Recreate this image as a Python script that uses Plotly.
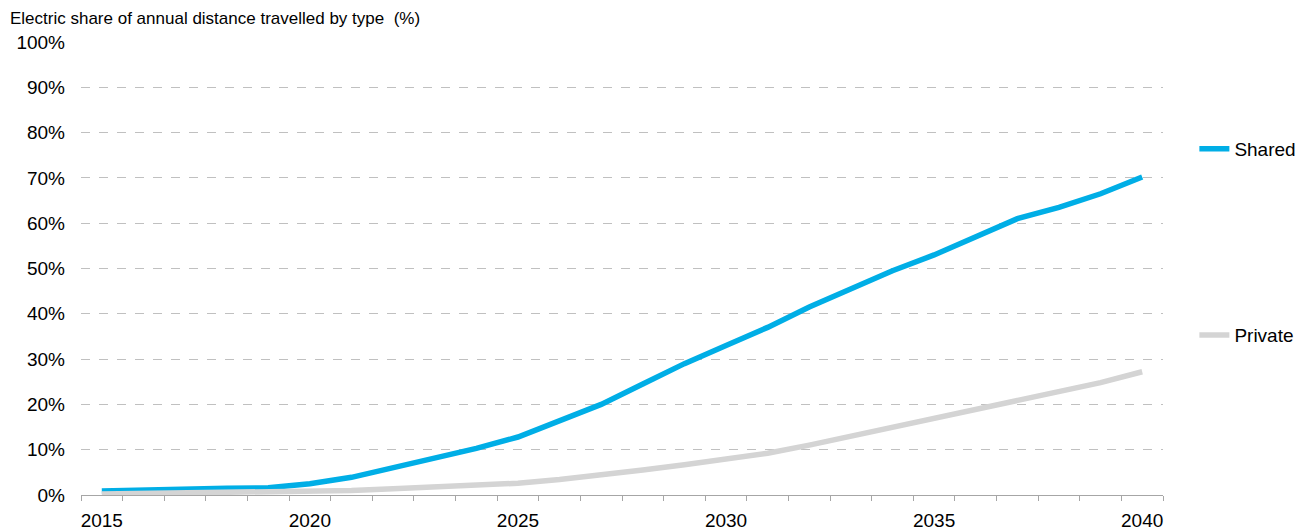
import plotly.graph_objects as go

years = list(range(2015, 2041))
shared = [0.9, 1.2, 1.5, 1.5, 1.6, 2.5, 3.9, 6.0, 8.0, 10.3, 12.8, 16.5, 20.0, 24.5,
          29.0, 33.0, 37.0, 41.5, 45.5, 49.5, 53.0, 57.0, 61.0, 63.5, 66.5, 70.2]
private = [0.2, 0.3, 0.4, 0.5, 0.6, 0.8, 1.0, 1.4, 1.8, 2.2, 2.6, 3.4, 4.3, 5.5,
           6.7, 7.9, 9.2, 11.0, 13.0, 14.8, 16.9, 18.9, 20.7, 22.8, 24.8, 27.2]
y_ticks = list(range(0, 101, 10))
y_labels = [f"{v}%" for v in y_ticks]

font = "Liberation Sans, Arial, sans-serif"
W, H = 1313, 530

fig = go.Figure()
fig.add_trace(go.Scatter(x=years, y=shared, name="Shared", mode="lines",
                         line=dict(color="#00aee6", width=5.5), legend="legend",
                         showlegend=True))
fig.add_trace(go.Scatter(x=years, y=private, name="Private", mode="lines",
                         line=dict(color="#d4d4d4", width=5.5), legend="legend2",
                         showlegend=True))

fig.update_layout(
    width=W, height=H,
    margin=dict(l=81, r=150, t=42, b=35),
    showlegend=True,
    plot_bgcolor="white", paper_bgcolor="white",
    font=dict(family=font, size=19, color="#000000"),
    title=dict(text="Electric share of annual distance travelled by type  (%)",
               x=10 / W, xanchor="left", xref="container",
               y=1 - 18 / H, yanchor="middle", yref="container",
               font=dict(family=font, size=17, color="#000000")),
    # further right than this and the legend starts pushing the right margin
    legend=dict(x=1.029, y=0.764, xanchor="left", yanchor="middle",
                bgcolor="rgba(0,0,0,0)", font=dict(size=19)),
    legend2=dict(x=1.029, y=0.353, xanchor="left", yanchor="middle",
                 bgcolor="rgba(0,0,0,0)", font=dict(size=19)),
)

fig.update_xaxes(
    range=[2014.5, 2040.5], tickmode="linear", tick0=2015, dtick=5,
    ticks="", showgrid=False, zeroline=False, automargin=False,
    showline=True, linecolor="#a6a6a6", linewidth=1,
    tickfont=dict(size=19), ticklabelstandoff=8,
    minor=dict(ticks="outside", tick0=2014.5, dtick=1, ticklen=5,
               tickcolor="#a6a6a6", tickwidth=1, showgrid=False),
)
fig.update_yaxes(
    range=[0, 100], tickvals=y_ticks, ticktext=y_labels,
    showgrid=True, gridcolor="#c0c0c0", griddash="dash", gridwidth=1,
    zeroline=False, showline=False, ticks="", automargin=False,
    tickfont=dict(size=19), ticklabelstandoff=15,
)

# drop the default 8px body margin so the figure fills the window exactly
fig.write_html("out.html", config={"displayModeBar": False},
               post_script="document.body.style.margin='0';")
